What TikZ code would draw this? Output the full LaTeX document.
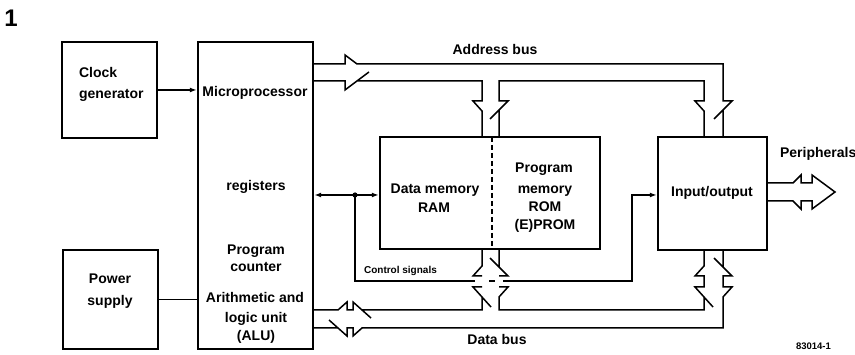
\documentclass[tikz,border=0pt]{standalone}
\usepackage{fontspec}
\setmainfont{Liberation Sans}
\usetikzlibrary{arrows.meta}

\begin{document}
\begin{tikzpicture}[x=1pt,y=-1pt,line width=1.5pt,
    box/.style={draw,line width=2.4pt,inner sep=0pt},
    tip/.style={-{Latex[length=7pt,width=5pt]}},
    lbl/.style={anchor=base,font=\bfseries\fontsize{14}{16}\selectfont}]

  \useasboundingbox (0,0) rectangle (855,355);

  % blocks
  \begin{scope}[every node/.style={box}]
    \node[minimum width=95pt,minimum height=96pt]   (clock) at (109.5,90) {};
    \node[minimum width=115pt,minimum height=307pt] (cpu)   at (255.5,195.5) {};
    \node[minimum width=95pt,minimum height=99pt]   (power) at (110.5,299.5) {};
    \node[minimum width=220pt,minimum height=112pt] (mem)   at (490,193) {};
    \node[minimum width=109pt,minimum height=113pt] (io)    at (712.5,193.5) {};
  \end{scope}
  \draw[line width=2.4pt,dash pattern=on 5pt off 3pt] (492,137) -- (492,249);

  % texts
  \begin{scope}[every node/.style={lbl}]
    \node[font=\bfseries\fontsize{24}{26}\selectfont] (fig) at (11,27) {1};
    \node[anchor=base west] (clk1) at (75,78) {Clock};
    \node[anchor=base west] (clk2) at (75,99) {generator};
    \node (cpu1) at (255,97)  {Microprocessor};
    \node (cpu2) at (256,191) {registers};
    \node (cpu3) at (256,255) {Program};
    \node (cpu4) at (256,272) {counter};
    \node (cpu5) at (255,303) {Arithmetic and};
    \node (cpu6) at (256,323) {logic unit};
    \node (cpu7) at (256,341) {(ALU)};
    \node (pwr1) at (110,284) {Power};
    \node (pwr2) at (110,306) {supply};
    \node (ram1) at (435,194) {Data memory};
    \node (ram2) at (434,213) {RAM};
    \node (rom1) at (544,173) {Program};
    \node (rom2) at (545,194) {memory};
    \node (rom3) at (545,212) {ROM};
    \node (rom4) at (545,230) {(E)PROM};
    \node (io1)  at (712,197) {Input/output};
    \node[anchor=base west] (per) at (776,158) {Peripherals};
    \node (adr) at (495,55)  {Address bus};
    \node (dat) at (497,345) {Data bus};
    \node[anchor=base west,font=\bfseries\fontsize{10}{12}\selectfont] (ctl) at (360,274) {Control signals};
    \node[anchor=base west,font=\bfseries\fontsize{9.5}{11}\selectfont] (num) at (792,350) {83014-1};
  \end{scope}

  % single lines
  \coordinate (regs) at (355,195);
  \draw[tip] (clock.east) -- (cpu.west |- clock.east);
  \draw (power.east) -- (cpu.west |- power.east);
  \draw[{Latex[length=7pt,width=5pt]}-{Latex[length=7pt,width=5pt]}] (cpu.east |- regs) -- (mem.west |- regs);
  \fill (regs) circle (2.6pt);
  \draw (regs) -- (355,281) -- (475,281) (489,281) -- (495,281);
  \draw[tip] (503,281) -- (632,281) -- (632,195) -- (io.west |- regs);

  % address bus
  \draw (313,64) -- (345,64) -- (345,55) -- (357,64) -- (723,64) -- (723,101) -- (732,101) -- (714,119)
        (723,110) -- (io.north -| 723,0);
  \draw (313,81) -- (345,81) -- (345,90) -- (369,72)
        (357,81) -- (482,81) -- (482,101) -- (473,101) -- (482,111) -- (mem.north -| 482,0);
  \draw (mem.north -| 499,0) -- (499,110) (490,119) -- (508,101) -- (499,101) -- (499,81)
        -- (704,81) -- (704,101) -- (695,101) -- (704,111) -- (io.north -| 704,0);

  % data bus
  \draw (313,310) -- (338,310) -- (347,302) -- (347,310) -- (353,310) -- (353,302) -- (371,318)
        (362,310) -- (482,310) -- (482,297)
        (mem.south -| 482,0) -- (482,266) -- (473,276) -- (482,276)
        (482,287) -- (473,287) -- (491,307);
  \draw (mem.south -| 499,0) -- (499,267) (490,258) -- (508,276) -- (499,276)
        (499,287) -- (508,287) -- (499,297) -- (499,310) -- (704,310) -- (704,297)
        (io.south -| 704,0) -- (704,266) -- (695,276) -- (704,276) -- (704,287) -- (695,287) -- (713,307);
  \draw (io.south -| 723,0) -- (723,267) (714,258) -- (732,276) -- (723,276) -- (723,287) -- (732,287)
        -- (723,297) -- (723,328) -- (362,328) -- (353,336) -- (353,328) -- (347,328) -- (347,336) -- (329,320)
        (338,328) -- (313,328);

  % peripherals
  \draw (io.east |- 0,183) -- (793,183) -- (801,175) -- (801,183) -- (812,183) -- (812,175) -- (835,192)
        -- (812,209) -- (812,201) -- (801,201) -- (801,209) -- (793,201) -- (io.east |- 0,201);

\end{tikzpicture}
\end{document}
